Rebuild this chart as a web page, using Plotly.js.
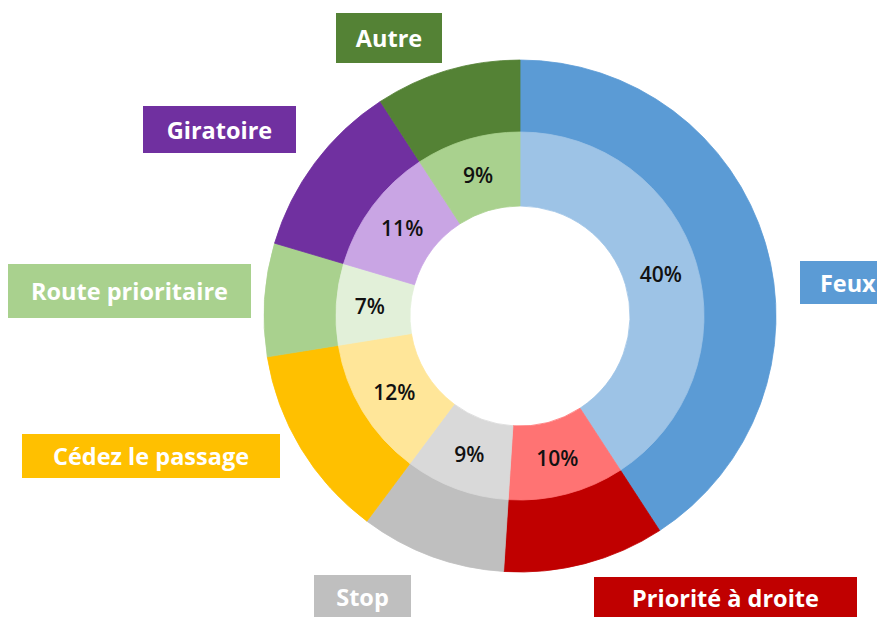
<!DOCTYPE html>
<html>
<head>
<meta charset="utf-8">
<script src="https://cdn.plot.ly/plotly-3.0.1.min.js"></script>
<style>
  html, body { margin: 0; padding: 0; background: #ffffff; overflow: hidden; }
  #chart { width: 877px; height: 617px; }
</style>
</head>
<body>
<div id="chart"></div>
<script>
// Répartition par type de régime de priorité (en %)
const categories = ['Feux', 'Priorité à droite', 'Stop', 'Cédez le passage', 'Route prioritaire', 'Giratoire', 'Autre'];
const shares = [40, 10, 9, 12, 7, 11, 9];

// Couleurs : anneau extérieur (foncé) et anneau intérieur (clair)
const outerColors = ['#5B9BD5', '#C00000', '#BFBFBF', '#FFC000', '#A9D18E', '#7030A0', '#548235'];
const innerColors = ['#9DC3E6', '#FF7373', '#D9D9D9', '#FFE699', '#E2F0D9', '#C9A5E4', '#A9D18E'];

// Étiquettes encadrées autour de l'anneau : centre (px) et taille (px)
const labelBoxes = [
  { cx: 848, cy: 282.5, w: 96,  h: 43 },  // Feux
  { cx: 725.5, cy: 597.5, w: 263, h: 41 },// Priorité à droite
  { cx: 362.5, cy: 596.5, w: 97, h: 43 }, // Stop
  { cx: 151, cy: 456,   w: 258, h: 44 },  // Cédez le passage
  { cx: 129.5, cy: 291, w: 243, h: 54 },  // Route prioritaire
  { cx: 219.5, cy: 129.5, w: 153, h: 47 },// Giratoire
  { cx: 389, cy: 38,    w: 106, h: 50 }   // Autre
];

const W = 877, H = 617;
const cx = 520, cy = 316;          // centre de l'anneau (px)
const rOuter = 256, rMid = 184, rHole = 110;

function domainFor(r) {
  return {
    x: [(cx - r) / W, (cx + r) / W],
    y: [(H - cy - r) / H, (H - cy + r) / H]
  };
}

const outerRing = {
  type: 'pie',
  values: shares,
  labels: categories,
  sort: false,
  direction: 'clockwise',
  rotation: 0,
  hole: (rMid - 1) / rOuter,
  domain: domainFor(rOuter),
  marker: { colors: outerColors, line: { color: outerColors, width: 0.8 } },
  textinfo: 'none',
  hoverinfo: 'label+value',
  showlegend: false
};

const innerRing = {
  type: 'pie',
  values: shares,
  labels: categories,
  sort: false,
  direction: 'clockwise',
  rotation: 0,
  hole: rHole / rMid,
  domain: domainFor(rMid),
  marker: { colors: innerColors, line: { color: innerColors, width: 0.8 } },
  texttemplate: '%{value}%',
  textposition: 'inside',
  insidetextorientation: 'horizontal',
  insidetextfont: { family: 'Open Sans, sans-serif', size: 21, color: '#111111', weight: 600 },
  hoverinfo: 'label+value',
  showlegend: false
};

const annotations = categories.map((name, i) => {
  const b = labelBoxes[i];
  return {
    xref: 'paper', yref: 'paper',
    x: b.cx / W, y: 1 - b.cy / H,
    xanchor: 'center', yanchor: 'middle',
    text: '<b>' + name + '</b>',
    showarrow: false,
    bgcolor: outerColors[i],
    borderpad: 0,
    borderwidth: 0,
    width: b.w,
    height: b.h,
    align: 'center',
    valign: 'middle',
    font: { family: 'Open Sans, sans-serif', size: 23.5, color: '#ffffff' }
  };
});

const layout = {
  width: W,
  height: H,
  margin: { l: 0, r: 0, t: 0, b: 0 },
  paper_bgcolor: '#ffffff',
  showlegend: false,
  annotations: annotations
};

Plotly.newPlot('chart', [outerRing, innerRing], layout, { staticPlot: true, displayModeBar: false });
</script>
</body>
</html>
